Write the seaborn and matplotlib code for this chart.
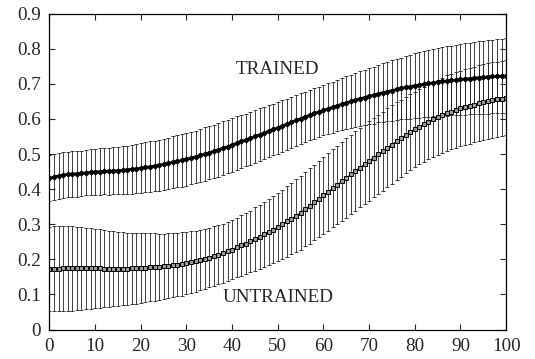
import numpy as np
import pandas as pd
import seaborn as sns
import matplotlib
matplotlib.use("Agg")
import matplotlib.pyplot as plt

# x positions 0..100, one point per step
steps = list(range(0, 101))

trained_mean = [
    0.431, 0.435, 0.438, 0.440, 0.442, 0.443, 0.444, 0.445, 0.447, 0.448, 0.449,
    0.450, 0.451, 0.451, 0.452, 0.453, 0.454, 0.455, 0.457, 0.458, 0.460,
    0.462, 0.464, 0.466, 0.468, 0.471, 0.474, 0.476, 0.479, 0.482, 0.485,
    0.489, 0.492, 0.496, 0.500, 0.504, 0.508, 0.512, 0.517, 0.521, 0.526,
    0.531, 0.536, 0.540, 0.545, 0.550, 0.555, 0.560, 0.565, 0.570, 0.575,
    0.580, 0.585, 0.590, 0.596, 0.601, 0.606, 0.611, 0.616, 0.620, 0.625,
    0.629, 0.633, 0.638, 0.642, 0.646, 0.650, 0.654, 0.658, 0.661, 0.665,
    0.668, 0.672, 0.675, 0.678, 0.681, 0.684, 0.687, 0.690, 0.692, 0.695,
    0.697, 0.699, 0.701, 0.703, 0.705, 0.707, 0.708, 0.710, 0.711, 0.713,
    0.714, 0.715, 0.716, 0.718, 0.719, 0.720, 0.721, 0.722, 0.722, 0.723,
]
trained_err = [
    0.066, 0.066, 0.066, 0.065, 0.065, 0.065, 0.065, 0.065, 0.065, 0.065, 0.065,
    0.066, 0.066, 0.067, 0.067, 0.068, 0.069, 0.069, 0.070, 0.070, 0.071,
    0.071, 0.072, 0.072, 0.073, 0.073, 0.073, 0.074, 0.074, 0.075, 0.075,
    0.075, 0.075, 0.076, 0.076, 0.076, 0.076, 0.076, 0.076, 0.076, 0.076,
    0.076, 0.076, 0.075, 0.075, 0.075, 0.075, 0.075, 0.074, 0.074, 0.074,
    0.073, 0.073, 0.073, 0.072, 0.072, 0.072, 0.072, 0.072, 0.072, 0.072,
    0.072, 0.073, 0.073, 0.074, 0.075, 0.076, 0.077, 0.078, 0.079, 0.080,
    0.081, 0.082, 0.083, 0.085, 0.086, 0.087, 0.088, 0.090, 0.091, 0.092,
    0.093, 0.094, 0.095, 0.096, 0.097, 0.098, 0.099, 0.099, 0.100, 0.101,
    0.102, 0.102, 0.103, 0.103, 0.104, 0.105, 0.105, 0.106, 0.106, 0.107,
]
untrained_mean = [
    0.173, 0.173, 0.173, 0.174, 0.174, 0.174, 0.174, 0.174, 0.174, 0.174, 0.174,
    0.174, 0.173, 0.173, 0.173, 0.173, 0.173, 0.173, 0.174, 0.174, 0.175,
    0.176, 0.177, 0.178, 0.179, 0.180, 0.182, 0.183, 0.185, 0.187, 0.190,
    0.192, 0.195, 0.198, 0.201, 0.205, 0.209, 0.213, 0.218, 0.223, 0.228,
    0.234, 0.240, 0.245, 0.251, 0.258, 0.264, 0.271, 0.278, 0.285, 0.292,
    0.300, 0.308, 0.316, 0.324, 0.333, 0.343, 0.352, 0.362, 0.372, 0.382,
    0.392, 0.402, 0.412, 0.422, 0.432, 0.442, 0.452, 0.461, 0.471, 0.480,
    0.490, 0.499, 0.508, 0.518, 0.527, 0.536, 0.545, 0.554, 0.563, 0.571,
    0.578, 0.585, 0.592, 0.599, 0.605, 0.611, 0.616, 0.621, 0.626, 0.630,
    0.634, 0.638, 0.641, 0.645, 0.648, 0.651, 0.653, 0.656, 0.658, 0.660,
]
untrained_err = [
    0.120, 0.121, 0.121, 0.121, 0.121, 0.120, 0.119, 0.118, 0.116, 0.115, 0.113,
    0.112, 0.110, 0.109, 0.107, 0.105, 0.104, 0.103, 0.102, 0.100, 0.099,
    0.098, 0.097, 0.096, 0.094, 0.093, 0.092, 0.091, 0.090, 0.090, 0.089,
    0.088, 0.087, 0.086, 0.086, 0.085, 0.085, 0.084, 0.084, 0.084, 0.084,
    0.085, 0.086, 0.087, 0.088, 0.090, 0.091, 0.093, 0.094, 0.096, 0.098,
    0.099, 0.101, 0.102, 0.104, 0.105, 0.106, 0.107, 0.108, 0.109, 0.110,
    0.111, 0.111, 0.112, 0.112, 0.113, 0.113, 0.113, 0.113, 0.113, 0.113,
    0.113, 0.113, 0.112, 0.112, 0.112, 0.111, 0.110, 0.109, 0.108, 0.107,
    0.107, 0.107, 0.107, 0.107, 0.107, 0.107, 0.108, 0.108, 0.108, 0.108,
    0.108, 0.108, 0.108, 0.108, 0.108, 0.108, 0.108, 0.107, 0.107, 0.107,
]

x_ticks = [0, 10, 20, 30, 40, 50, 60, 70, 80, 90, 100]
y_ticks = [0, 0.1, 0.2, 0.3, 0.4, 0.5, 0.6, 0.7, 0.8, 0.9]
y_labels = ["0", "0.1", "0.2", "0.3", "0.4", "0.5", "0.6", "0.7", "0.8", "0.9"]

df = pd.DataFrame({
    "step": steps * 2,
    "value": trained_mean + untrained_mean,
    "err": trained_err + untrained_err,
    "group": ["TRAINED"] * len(steps) + ["UNTRAINED"] * len(steps),
})

sns.set_style("ticks")
# Times-like look of the original
plt.rcParams["font.family"] = "serif"
plt.rcParams["font.serif"] = ["Liberation Serif", "DejaVu Serif"]

fig = plt.figure(figsize=(5.35, 3.59), dpi=100)
ax = fig.add_axes([0.0925, 0.082, 0.8535, 0.880])

# error bars first, then the mean curves on top
for g, sub in df.groupby("group"):
    ax.errorbar(sub["step"], sub["value"], yerr=sub["err"], fmt="none",
                ecolor="#222222", elinewidth=0.6, capsize=1.7, capthick=0.6)

sns.lineplot(data=df[df["group"] == "TRAINED"], x="step", y="value",
             color="black", lw=1.8, marker="D", markersize=2.6,
             markeredgecolor="black", ax=ax, legend=False)
sns.lineplot(data=df[df["group"] == "UNTRAINED"], x="step", y="value",
             color="black", lw=0.8, marker="s", markersize=3.1,
             markerfacecolor="#999999", markeredgecolor="black",
             markeredgewidth=0.7, ax=ax, legend=False)

ax.text(50, 0.74, "TRAINED", ha="center", va="center", fontsize=13.8)
ax.text(50, 0.09, "UNTRAINED", ha="center", va="center", fontsize=13.8)

ax.set_xlim(0, 100)
ax.set_ylim(0, 0.9)
ax.set_xticks(x_ticks)
ax.set_yticks(y_ticks)
ax.set_yticklabels(y_labels)
ax.set_xlabel("")
ax.set_ylabel("")
ax.tick_params(direction="in", length=4, width=0.8, top=True, right=True,
               labelsize=13.8, pad=6)
for s in ax.spines.values():
    s.set_linewidth(0.9)
    s.set_color("black")

fig.savefig("out.png", dpi=100)
